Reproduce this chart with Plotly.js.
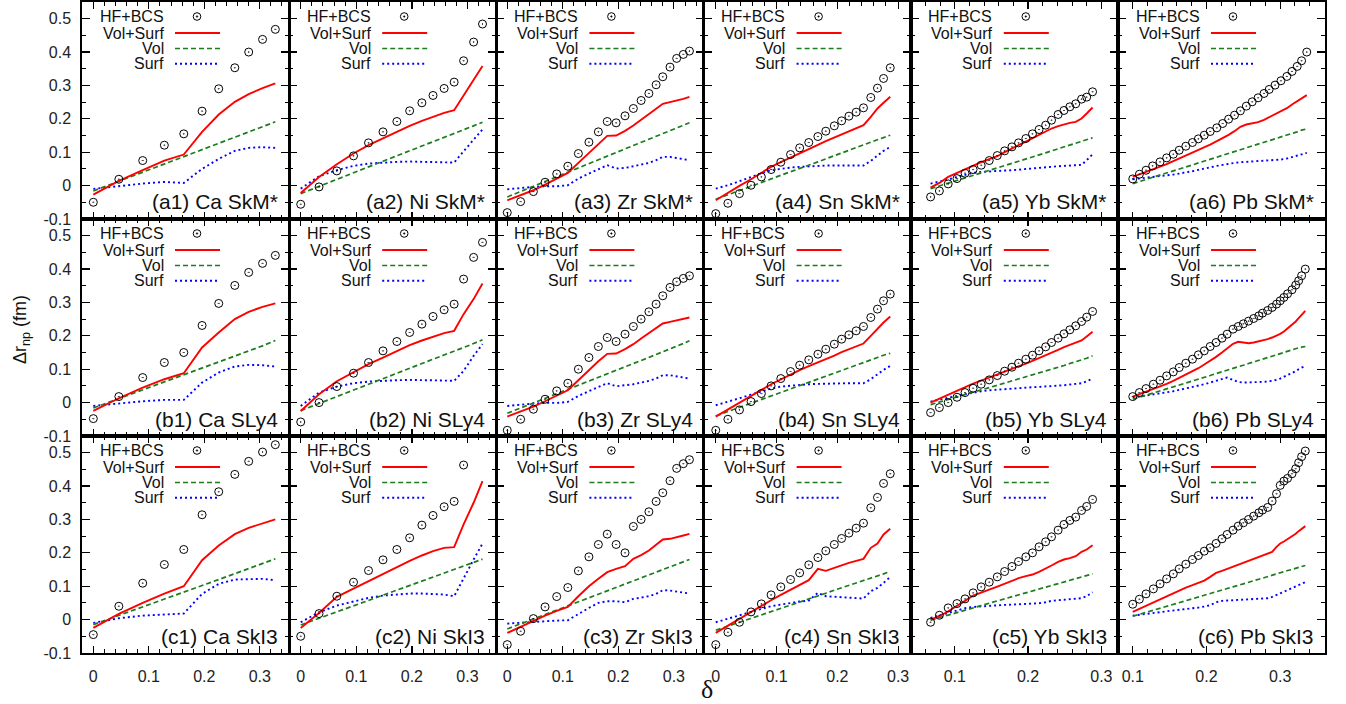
<!DOCTYPE html>
<html><head><meta charset="utf-8">
<script src="https://cdn.plot.ly/plotly-3.0.1.min.js"></script>
<style>html,body{margin:0;padding:0;background:#fff}#chart{width:1346px;height:704px}</style>
</head><body><div id="chart"></div>
<script>
// ---------------- DATA ----------------
const elements = ['Ca','Ni','Zr','Sn','Yb','Pb'];
const forces = ['SkM*','SLy4','SkI3'];
const rowTags = ['a','b','c'];
const seriesNames = ['HF+BCS','Vol+Surf','Vol','Surf'];
const yTickVals = [-0.1,0,0.1,0.2,0.3,0.4,0.5];
const yTickText = ['-0.1','0','0.1','0.2','0.3','0.4','0.5'];

// Ca
const d_Ca = [0,0.046,0.089,0.128,0.163,0.196,0.226,0.255,0.28,0.305,0.328];
const hf_a1 = [-0.05,0.019,0.075,0.121,0.155,0.223,0.29,0.353,0.40,0.438,0.468];
const vs_a1 = [-0.027,0.014,0.046,0.075,0.093,0.161,0.213,0.251,0.274,0.292,0.306];
const vol_a1 = [-0.016,0.013,0.040,0.064,0.086,0.107,0.126,0.144,0.159,0.175,0.191];
const surf_a1 = [-0.01,-0.001,0.006,0.011,0.008,0.05,0.08,0.104,0.113,0.115,0.113];
const hf_b1 = [-0.048,0.018,0.075,0.12,0.15,0.231,0.297,0.351,0.39,0.417,0.441];
const vs_b1 = [-0.025,0.013,0.045,0.07,0.088,0.165,0.21,0.25,0.272,0.287,0.297];
const vol_b1 = [-0.016,0.012,0.038,0.062,0.083,0.103,0.121,0.139,0.155,0.17,0.186];
const surf_b1 = [-0.01,-0.002,0.004,0.008,0.008,0.06,0.09,0.108,0.113,0.112,0.108];
const hf_c1 = [-0.045,0.04,0.109,0.165,0.21,0.314,0.383,0.435,0.474,0.502,0.524];
const vs_c1 = [-0.025,0.017,0.05,0.078,0.10,0.178,0.222,0.256,0.275,0.288,0.30];
const vol_c1 = [-0.015,0.013,0.038,0.061,0.082,0.102,0.12,0.137,0.152,0.167,0.182];
const surf_c1 = [-0.01,0.004,0.012,0.016,0.018,0.077,0.107,0.12,0.122,0.122,0.118];

// Ni
const d_Ni = [0,0.033,0.065,0.095,0.122,0.148,0.173,0.196,0.218,0.238,0.258,0.276,0.293,0.311,0.327];
const hf_a2 = [-0.056,-0.004,0.044,0.089,0.128,0.161,0.192,0.224,0.248,0.27,0.291,0.31,0.374,0.43,0.484];
const vs_a2 = [-0.022,0.026,0.064,0.096,0.121,0.142,0.161,0.179,0.194,0.207,0.218,0.226,0.271,0.316,0.358];
const vol_a2 = [-0.024,-0.003,0.018,0.038,0.056,0.073,0.089,0.104,0.118,0.131,0.144,0.156,0.167,0.179,0.19];
const surf_a2 = [-0.009,0.028,0.046,0.059,0.066,0.069,0.071,0.072,0.071,0.07,0.069,0.069,0.103,0.136,0.168];
const hf_b2 = [-0.058,0.0,0.048,0.088,0.12,0.155,0.183,0.21,0.235,0.258,0.278,0.295,0.37,0.435,0.48];
const vs_b2 = [-0.025,0.025,0.064,0.092,0.115,0.135,0.155,0.172,0.186,0.198,0.208,0.215,0.265,0.31,0.357];
const vol_b2 = [-0.024,-0.003,0.018,0.037,0.055,0.072,0.088,0.103,0.117,0.13,0.142,0.154,0.165,0.177,0.188];
const surf_b2 = [-0.01,0.03,0.048,0.058,0.063,0.066,0.067,0.068,0.068,0.067,0.066,0.065,0.095,0.14,0.175];
const hf_c2 = [-0.05,0.018,0.07,0.112,0.147,0.179,0.21,0.245,0.283,0.312,0.338,0.354,0.463];
const vs_c2 = [-0.025,0.02,0.068,0.093,0.115,0.137,0.159,0.176,0.192,0.205,0.215,0.217,0.285,0.35,0.415];
const vol_c2 = [-0.016,0.004,0.023,0.041,0.057,0.073,0.088,0.102,0.116,0.128,0.14,0.151,0.161,0.172,0.181];
const surf_c2 = [-0.008,0.022,0.042,0.055,0.065,0.072,0.076,0.078,0.078,0.077,0.075,0.07,0.125,0.18,0.228];

// Zr
const d_Zr = [0,0.024,0.047,0.068,0.089,0.109,0.128,0.147,0.164,0.18,0.196,0.212,0.227,0.241,0.255,0.268,0.28,0.293,0.305,0.317,0.328];
const hf_a3 = [-0.081,-0.048,-0.018,0.01,0.035,0.058,0.096,0.13,0.161,0.192,0.188,0.209,0.231,0.255,0.276,0.302,0.326,0.355,0.381,0.393,0.403];
const vs_a3 = [-0.044,-0.029,-0.014,0.003,0.021,0.038,0.068,0.098,0.126,0.149,0.15,0.164,0.18,0.198,0.215,0.23,0.245,0.25,0.254,0.26,0.266];
const vol_a3 = [-0.034,-0.018,-0.002,0.012,0.026,0.04,0.053,0.066,0.077,0.088,0.099,0.11,0.12,0.129,0.139,0.147,0.156,0.164,0.172,0.181,0.188];
const surf_a3 = [-0.011,-0.007,-0.004,-0.002,-0.002,0.001,0.021,0.036,0.048,0.061,0.051,0.053,0.058,0.063,0.068,0.076,0.086,0.086,0.083,0.079,0.076];
const hf_b3 = [-0.083,-0.05,-0.02,0.01,0.035,0.058,0.1,0.135,0.168,0.195,0.183,0.205,0.228,0.25,0.272,0.295,0.32,0.345,0.362,0.372,0.38];
const vs_b3 = [-0.042,-0.027,-0.012,0.004,0.021,0.037,0.067,0.097,0.124,0.146,0.147,0.16,0.175,0.192,0.208,0.222,0.237,0.242,0.247,0.251,0.255];
const vol_b3 = [-0.032,-0.016,-0.001,0.013,0.026,0.04,0.052,0.064,0.075,0.086,0.097,0.107,0.117,0.126,0.135,0.144,0.152,0.16,0.168,0.177,0.185];
const surf_b3 = [-0.01,-0.006,-0.003,-0.001,-0.001,0.002,0.02,0.034,0.046,0.058,0.049,0.051,0.055,0.06,0.065,0.072,0.082,0.082,0.079,0.075,0.072];
const hf_c3 = [-0.075,-0.035,0.003,0.038,0.069,0.096,0.146,0.188,0.225,0.256,0.225,0.2,0.279,0.3,0.323,0.354,0.38,0.416,0.453,0.467,0.479];
const vs_c3 = [-0.04,-0.021,-0.004,0.012,0.026,0.038,0.07,0.1,0.122,0.142,0.152,0.16,0.182,0.193,0.207,0.223,0.24,0.242,0.248,0.252,0.257];
const vol_c3 = [-0.028,-0.013,0.002,0.015,0.028,0.041,0.053,0.065,0.076,0.086,0.096,0.106,0.116,0.125,0.134,0.142,0.15,0.158,0.165,0.173,0.18];
const surf_c3 = [-0.012,-0.009,-0.006,-0.005,-0.003,-0.002,0.017,0.035,0.05,0.055,0.055,0.052,0.062,0.065,0.07,0.077,0.088,0.087,0.084,0.082,0.078];

// Sn
const d_Sn = [0,0.020,0.039,0.058,0.075,0.091,0.107,0.123,0.138,0.153,0.168,0.181,0.195,0.207,0.219,0.231,0.243,0.255,0.266,0.276,0.287];
const hf_a4 = [-0.084,-0.053,-0.024,0.001,0.026,0.048,0.07,0.093,0.113,0.129,0.147,0.163,0.179,0.194,0.208,0.22,0.233,0.264,0.292,0.321,0.353];
const vs_a4 = [-0.044,-0.021,-0.001,0.019,0.038,0.056,0.07,0.084,0.098,0.11,0.122,0.133,0.144,0.154,0.163,0.173,0.181,0.206,0.231,0.248,0.266];
const vol_a4 = [-0.041,-0.028,-0.015,-0.002,0.009,0.02,0.031,0.041,0.051,0.061,0.071,0.08,0.089,0.097,0.106,0.114,0.122,0.13,0.137,0.144,0.151];
const surf_a4 = [-0.009,0.001,0.013,0.026,0.037,0.046,0.051,0.054,0.056,0.058,0.059,0.06,0.06,0.06,0.06,0.06,0.06,0.074,0.09,0.104,0.116];
const hf_b4 = [-0.083,-0.05,-0.022,0.003,0.027,0.05,0.072,0.093,0.112,0.128,0.145,0.16,0.175,0.19,0.203,0.215,0.228,0.255,0.28,0.305,0.325];
const vs_b4 = [-0.042,-0.02,0.0,0.02,0.038,0.055,0.07,0.084,0.097,0.109,0.12,0.131,0.141,0.151,0.16,0.169,0.177,0.2,0.222,0.24,0.258];
const vol_b4 = [-0.04,-0.027,-0.014,-0.002,0.009,0.02,0.03,0.04,0.05,0.06,0.07,0.079,0.088,0.096,0.104,0.112,0.12,0.128,0.135,0.142,0.148];
const surf_b4 = [-0.008,0.002,0.013,0.024,0.034,0.042,0.048,0.051,0.053,0.055,0.056,0.057,0.058,0.058,0.058,0.058,0.058,0.07,0.085,0.098,0.11];
const hf_c4 = [-0.075,-0.038,-0.008,0.023,0.047,0.074,0.098,0.12,0.14,0.164,0.186,0.206,0.225,0.243,0.259,0.274,0.289,0.335,0.366,0.408,0.437];
const vs_c4 = [-0.04,-0.018,0.002,0.022,0.04,0.058,0.074,0.09,0.105,0.118,0.152,0.146,0.155,0.163,0.17,0.176,0.182,0.215,0.228,0.255,0.272];
const vol_c4 = [-0.032,-0.02,-0.008,0.004,0.014,0.024,0.034,0.043,0.053,0.062,0.071,0.079,0.088,0.095,0.102,0.11,0.117,0.124,0.131,0.137,0.144];
const surf_c4 = [-0.008,0.002,0.013,0.023,0.032,0.04,0.045,0.05,0.054,0.057,0.08,0.07,0.068,0.066,0.065,0.064,0.063,0.085,0.095,0.11,0.128];

// Yb
const d_Yb = [0.067,0.079,0.091,0.103,0.114,0.125,0.136,0.147,0.158,0.168,0.178,0.187,0.197,0.206,0.215,0.224,0.232,0.241,0.249,0.257,0.265,0.273,0.28,0.288];
const hf_a5 = [-0.034,-0.016,0.005,0.021,0.037,0.048,0.061,0.075,0.09,0.104,0.116,0.128,0.141,0.155,0.168,0.181,0.196,0.213,0.225,0.236,0.245,0.259,0.265,0.281];
const vs_a5 = [-0.006,0.008,0.026,0.038,0.05,0.061,0.07,0.079,0.088,0.1,0.11,0.121,0.132,0.142,0.152,0.162,0.171,0.178,0.184,0.188,0.191,0.201,0.216,0.234];
const vol_a5 = [-0.009,-0.001,0.007,0.015,0.023,0.03,0.038,0.045,0.053,0.06,0.066,0.073,0.08,0.086,0.092,0.098,0.104,0.11,0.116,0.121,0.127,0.132,0.137,0.143];
const surf_a5 = [0.006,0.011,0.018,0.026,0.032,0.038,0.041,0.043,0.044,0.045,0.046,0.048,0.049,0.051,0.053,0.055,0.057,0.058,0.059,0.06,0.061,0.062,0.076,0.094];
const hf_b5 = [-0.03,-0.015,0.0,0.016,0.03,0.043,0.055,0.068,0.081,0.094,0.106,0.118,0.13,0.142,0.155,0.167,0.18,0.193,0.206,0.218,0.23,0.243,0.256,0.273];
const vs_b5 = [0.0,0.012,0.025,0.036,0.047,0.057,0.066,0.075,0.083,0.092,0.1,0.108,0.117,0.125,0.133,0.142,0.15,0.158,0.166,0.172,0.178,0.186,0.198,0.212];
const vol_b5 = [-0.006,0.002,0.009,0.017,0.024,0.031,0.038,0.045,0.052,0.058,0.065,0.071,0.077,0.083,0.089,0.095,0.1,0.106,0.111,0.117,0.122,0.127,0.133,0.14];
const surf_b5 = [0.003,0.008,0.014,0.02,0.025,0.03,0.034,0.037,0.039,0.041,0.043,0.044,0.045,0.046,0.047,0.048,0.049,0.05,0.052,0.054,0.056,0.058,0.064,0.072];
const hf_c5 = [-0.008,0.013,0.035,0.048,0.062,0.08,0.098,0.112,0.128,0.144,0.159,0.174,0.188,0.2,0.218,0.233,0.248,0.268,0.285,0.297,0.307,0.327,0.339,0.36];
const vs_c5 = [0.0,0.01,0.025,0.04,0.056,0.072,0.082,0.09,0.099,0.108,0.116,0.124,0.13,0.135,0.143,0.152,0.162,0.173,0.18,0.184,0.19,0.203,0.21,0.223];
const vol_c5 = [-0.002,0.006,0.013,0.021,0.028,0.035,0.042,0.049,0.056,0.062,0.068,0.074,0.08,0.086,0.092,0.097,0.102,0.108,0.113,0.118,0.123,0.128,0.133,0.137];
const surf_c5 = [0.005,0.012,0.02,0.028,0.034,0.038,0.04,0.042,0.043,0.044,0.045,0.046,0.046,0.047,0.049,0.052,0.056,0.058,0.06,0.061,0.063,0.064,0.07,0.082];

// Pb
const d_Pb_a = [0.1,0.109,0.118,0.127,0.137,0.146,0.155,0.163,0.172,0.181,0.189,0.197,0.205,0.214,0.222,0.23,0.238,0.246,0.254,0.262,0.27,0.278,0.285,0.293,0.301,0.309,0.316,0.323,0.329,0.336];
const hf_a6 = [0.02,0.034,0.046,0.059,0.071,0.083,0.094,0.106,0.118,0.129,0.14,0.151,0.162,0.173,0.186,0.199,0.211,0.224,0.238,0.251,0.263,0.276,0.288,0.301,0.314,0.327,0.342,0.357,0.374,0.40];
const vs_a6 = [0.026,0.033,0.041,0.048,0.056,0.064,0.073,0.081,0.089,0.097,0.106,0.114,0.123,0.133,0.142,0.152,0.163,0.176,0.183,0.186,0.19,0.197,0.205,0.213,0.222,0.232,0.243,0.253,0.262,0.271];
const vol_a6 = [0.006,0.012,0.018,0.025,0.031,0.038,0.044,0.05,0.056,0.062,0.068,0.073,0.079,0.085,0.091,0.096,0.102,0.108,0.113,0.119,0.124,0.13,0.135,0.14,0.146,0.151,0.156,0.161,0.166,0.17];
const surf_a6 = [0.019,0.021,0.023,0.025,0.028,0.03,0.033,0.036,0.039,0.043,0.047,0.051,0.056,0.059,0.062,0.066,0.068,0.07,0.071,0.072,0.072,0.073,0.074,0.076,0.078,0.081,0.085,0.089,0.093,0.098];
const d_Pb_c = [0.1,0.109,0.118,0.128,0.137,0.146,0.155,0.163,0.172,0.181,0.189,0.197,0.205,0.213,0.221,0.228,0.236,0.243,0.25,0.257,0.264,0.271,0.276,0.283,0.289,0.295,0.3,0.305,0.31,0.316,0.321,0.325,0.329,0.334];
const hf_b6 = [0.018,0.03,0.042,0.055,0.067,0.08,0.092,0.105,0.118,0.13,0.143,0.155,0.168,0.18,0.193,0.205,0.22,0.228,0.236,0.244,0.252,0.26,0.268,0.276,0.285,0.295,0.305,0.315,0.326,0.338,0.352,0.365,0.38,0.40];
const vs_b6 = [0.018,0.025,0.032,0.04,0.048,0.056,0.065,0.074,0.083,0.093,0.103,0.114,0.125,0.137,0.15,0.163,0.176,0.182,0.179,0.178,0.18,0.183,0.186,0.19,0.195,0.2,0.206,0.213,0.222,0.232,0.243,0.253,0.263,0.275];
const vol_b6 = [0.01,0.016,0.022,0.028,0.034,0.041,0.047,0.053,0.059,0.065,0.07,0.076,0.081,0.087,0.092,0.097,0.102,0.107,0.112,0.117,0.122,0.126,0.13,0.135,0.139,0.143,0.147,0.15,0.154,0.158,0.161,0.164,0.166,0.168];
const surf_b6 = [0.015,0.018,0.021,0.024,0.027,0.03,0.034,0.038,0.042,0.046,0.05,0.055,0.06,0.066,0.071,0.075,0.068,0.062,0.06,0.06,0.06,0.061,0.062,0.063,0.065,0.068,0.072,0.077,0.082,0.088,0.094,0.1,0.105,0.11];
const hf_c6 = [0.046,0.061,0.077,0.092,0.107,0.122,0.137,0.152,0.166,0.18,0.192,0.205,0.215,0.228,0.242,0.255,0.268,0.28,0.29,0.30,0.31,0.32,0.328,0.336,0.355,0.377,0.402,0.415,0.423,0.437,0.452,0.47,0.488,0.505];
const vs_c6 = [0.023,0.032,0.041,0.051,0.06,0.07,0.079,0.088,0.096,0.103,0.11,0.117,0.128,0.14,0.146,0.152,0.158,0.164,0.17,0.176,0.181,0.187,0.192,0.197,0.203,0.218,0.228,0.234,0.241,0.249,0.257,0.265,0.272,0.28];
const vol_c6 = [0.01,0.016,0.022,0.028,0.034,0.04,0.046,0.051,0.057,0.063,0.068,0.073,0.078,0.083,0.089,0.093,0.098,0.103,0.108,0.112,0.117,0.121,0.124,0.129,0.133,0.137,0.14,0.143,0.147,0.15,0.154,0.156,0.159,0.162];
const surf_c6 = [0.012,0.014,0.017,0.019,0.022,0.025,0.027,0.029,0.032,0.034,0.036,0.039,0.043,0.052,0.056,0.057,0.058,0.059,0.06,0.061,0.062,0.063,0.064,0.064,0.068,0.074,0.079,0.084,0.089,0.094,0.099,0.103,0.107,0.112];

// ---------------- panel table built from the arrays ----------------
const panelData = [
  [[d_Ca,hf_a1,vs_a1,vol_a1,surf_a1],[d_Ni,hf_a2,vs_a2,vol_a2,surf_a2],[d_Zr,hf_a3,vs_a3,vol_a3,surf_a3],[d_Sn,hf_a4,vs_a4,vol_a4,surf_a4],[d_Yb,hf_a5,vs_a5,vol_a5,surf_a5],[d_Pb_a,hf_a6,vs_a6,vol_a6,surf_a6]],
  [[d_Ca,hf_b1,vs_b1,vol_b1,surf_b1],[d_Ni,hf_b2,vs_b2,vol_b2,surf_b2],[d_Zr,hf_b3,vs_b3,vol_b3,surf_b3],[d_Sn,hf_b4,vs_b4,vol_b4,surf_b4],[d_Yb,hf_b5,vs_b5,vol_b5,surf_b5],[d_Pb_c,hf_b6,vs_b6,vol_b6,surf_b6]],
  [[d_Ca,hf_c1,vs_c1,vol_c1,surf_c1],[d_Ni,hf_c2,vs_c2,vol_c2,surf_c2],[d_Zr,hf_c3,vs_c3,vol_c3,surf_c3],[d_Sn,hf_c4,vs_c4,vol_c4,surf_c4],[d_Yb,hf_c5,vs_c5,vol_c5,surf_c5],[d_Pb_c,hf_c6,vs_c6,vol_c6,surf_c6]]
];

// ---------------- layout geometry / style ----------------
const W = 1346, H = 704;
const colLeft = [82, 289.2, 496.4, 703.6, 910.8, 1118], colW = 207.2;
const rowTop = [2, 219, 436], rowH = 217;
const xRanges = [[-0.0204,0.353],[-0.0207,0.352],[-0.0196,0.3535],[-0.02,0.3208],[0.04,0.3227],[0.08,0.361]];
const FONT = 'Liberation Sans, Arial, Helvetica, sans-serif';
const RED = '#ff0000', GREEN = '#1b7d1b', BLUE = '#0000ff';

const px = v => v / W;
const py = v => 1 - v / H;

const traces = [];
const layout = {
  width: W, height: H, margin: {l:0,r:0,t:0,b:0},
  paper_bgcolor: '#fff', plot_bgcolor: '#fff',
  showlegend: false, font: {family: FONT, color: '#000', size: 16},
  shapes: [], annotations: []
};

for (let r = 0; r < 3; r++) {
  for (let c = 0; c < 6; c++) {
    const n = r*6 + c + 1;
    const xs = n === 1 ? 'x' : 'x'+n, ys = n === 1 ? 'y' : 'y'+n;
    const xk = n === 1 ? 'xaxis' : 'xaxis'+n, yk = n === 1 ? 'yaxis' : 'yaxis'+n;
    const L = colLeft[c], T = rowTop[r];
    layout[xk] = {
      domain: [px(L), px(L+colW)], range: xRanges[c], anchor: ys,
      showline: true, linecolor: '#000', linewidth: 1.7, mirror: 'ticks',
      ticks: 'inside', ticklen: 7, tickwidth: 1.2, tickcolor: '#000',
      tickmode: 'linear', tick0: 0, dtick: 0.1,
      minor: {ticks: 'inside', ticklen: 4, tickwidth: 1, tickcolor: '#000', tickmode: 'linear', tick0: 0, dtick: 0.02, showgrid: false},
      showticklabels: r === 2, tickfont: {family: FONT, size: 16, color: '#222'},
      ticklabelstandoff: 8,
      showgrid: false, zeroline: false, automargin: false, fixedrange: true
    };
    layout[yk] = {
      domain: [py(T+rowH), py(T)], range: [-0.1001, 0.55], anchor: xs,
      showline: true, linecolor: '#000', linewidth: 1.7, mirror: 'ticks',
      ticks: 'inside', ticklen: 8, tickwidth: 1.2, tickcolor: '#000',
      tickmode: 'array', tickvals: yTickVals, ticktext: yTickText,
      minor: {ticks: 'inside', ticklen: 4, tickwidth: 1, tickcolor: '#000', tickmode: 'linear', tick0: 0, dtick: 0.05, showgrid: false},
      showticklabels: c === 0, tickfont: {family: FONT, size: 16, color: '#222'},
      ticklabelstandoff: 6,
      showgrid: false, zeroline: false, automargin: false, fixedrange: true
    };
    const [d, hf, vs, vol, surf] = panelData[r][c];
    traces.push({x: d, y: surf, xaxis: xs, yaxis: ys, mode: 'lines', line: {color: BLUE, width: 1.9, dash: '2px,3px'}, hoverinfo: 'skip'});
    traces.push({x: d, y: vol, xaxis: xs, yaxis: ys, mode: 'lines', line: {color: GREEN, width: 1.7, dash: '5px,3px'}, hoverinfo: 'skip'});
    traces.push({x: d, y: vs, xaxis: xs, yaxis: ys, mode: 'lines', line: {color: RED, width: 1.9}, hoverinfo: 'skip'});
    traces.push({x: d.slice(0, hf.length), y: hf, xaxis: xs, yaxis: ys, mode: 'markers', cliponaxis: true,
      marker: {symbol: 'circle-open-dot', size: 8, color: '#000', line: {width: 1, color: '#000'}}, hoverinfo: 'skip'});

    // panel label
    layout.annotations.push({xref:'paper', yref:'paper', x: px(L+colW-9), y: py(T+rowH-17), xanchor:'right', yanchor:'middle',
      text: '('+rowTags[r]+(c+1)+') '+elements[c]+' '+forces[r], showarrow:false, font:{family: FONT, size: 21, color:'#111'}});

    // in-panel key
    const keyY = [14.5, 31, 46.5, 61.8];
    for (let k = 0; k < 4; k++) {
      layout.annotations.push({xref:'paper', yref:'paper', x: px(L+83.5), y: py(T+keyY[k]), xanchor:'right', yanchor:'middle',
        text: seriesNames[k], showarrow:false, font:{family: FONT, size: 16, color:'#111'}});
    }
    const cx = L+115, cy = T+keyY[0];
    layout.shapes.push({type:'circle', xref:'paper', yref:'paper', xsizemode:'pixel', ysizemode:'pixel',
      xanchor: px(cx), yanchor: py(cy), x0:-3.8, x1:3.8, y0:-3.8, y1:3.8, line:{color:'#000', width:1}});
    layout.shapes.push({type:'circle', xref:'paper', yref:'paper', xsizemode:'pixel', ysizemode:'pixel',
      xanchor: px(cx), yanchor: py(cy), x0:-0.8, x1:0.8, y0:-0.8, y1:0.8, fillcolor:'#000', line:{color:'#000', width:0.5}});
    const styles = [{color:RED, width:1.9}, {color:GREEN, width:1.7, dash:'5px,3px'}, {color:BLUE, width:1.9, dash:'2px,3px'}];
    for (let k = 1; k < 4; k++) {
      layout.shapes.push({type:'line', xref:'paper', yref:'paper', x0: px(L+93), x1: px(L+138), y0: py(T+keyY[k]), y1: py(T+keyY[k]), line: styles[k-1]});
    }
  }
}

// axis titles
layout.annotations.push({xref:'paper', yref:'paper', x: px(21), y: py(330), xanchor:'center', yanchor:'middle', textangle:-90,
  text:'Δr<sub>np</sub> (fm)', showarrow:false, font:{family: FONT, size: 18, color:'#111'}});
layout.annotations.push({xref:'paper', yref:'paper', x: px(707), y: py(689), xanchor:'center', yanchor:'middle',
  text:'δ', showarrow:false, font:{family: 'Liberation Serif, DejaVu Serif, serif', size: 26, color:'#111'}});

Plotly.newPlot('chart', traces, layout, {staticPlot: true, displayModeBar: false});
</script></body></html>
